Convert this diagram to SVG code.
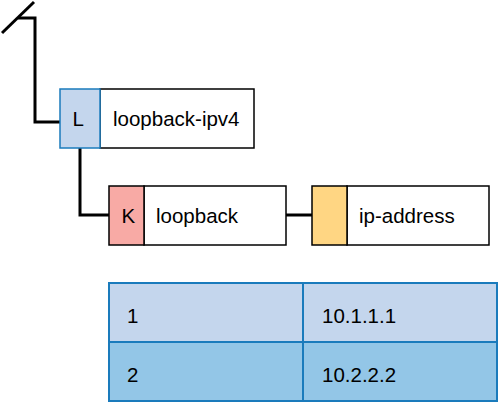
<svg xmlns="http://www.w3.org/2000/svg" width="498" height="403" viewBox="0 0 498 403">
<style>
text{font-family:"Liberation Sans",Arial,sans-serif;font-size:20.5px;fill:#000}
.box{fill:#fff;stroke:#000;stroke-width:1.5}
.key{stroke:#1a7bbc;stroke-width:1.5}
.conn{fill:none;stroke:#000;stroke-width:3}
.cell{stroke:#1a7bbc;stroke-width:2}
.k{fill:#f8aaa5}
.y{fill:#ffd683}
</style>
<rect width="498" height="403" fill="#fff"/>
<g id="connectors">
<line class="conn" x1="2" y1="33" x2="34" y2="2"/>
<polyline class="conn" points="60,122 35,122 35,18 18,18"/>
<polyline class="conn" points="80,148 80,215 109,215"/>
<line class="conn" x1="286" y1="215" x2="312" y2="215"/>
</g>
<g id="node-loopback-ipv4">
<rect class="box" x="100" y="89" width="154" height="59"/>
<rect class="key" x="60" y="89" width="40" height="59" fill="#c4d6ed"/>
<text x="72.5" y="126">L</text>
<text x="113" y="126">loopback-ipv4</text>
</g>
<g id="node-loopback">
<rect class="box" x="144" y="186" width="142" height="59"/>
<rect class="box k" x="109" y="186" width="35" height="59"/>
<text x="121.5" y="223">K</text>
<text x="156" y="223">loopback</text>
</g>
<g id="node-ip-address">
<rect class="box" x="347" y="186" width="142" height="59"/>
<rect class="box y" x="312" y="186" width="35" height="59"/>
<text x="359" y="223">ip-address</text>
</g>
<g id="table">
<rect class="cell" x="109" y="283" width="388" height="59" fill="#c4d6ed"/>
<rect class="cell" x="109" y="342" width="388" height="59" fill="#93c6e7"/>
<line class="cell" x1="303" y1="283" x2="303" y2="401"/>
<text x="127" y="323">1</text>
<text x="322" y="323">10.1.1.1</text>
<text x="127" y="382">2</text>
<text x="322" y="382">10.2.2.2</text>
</g>
</svg>
